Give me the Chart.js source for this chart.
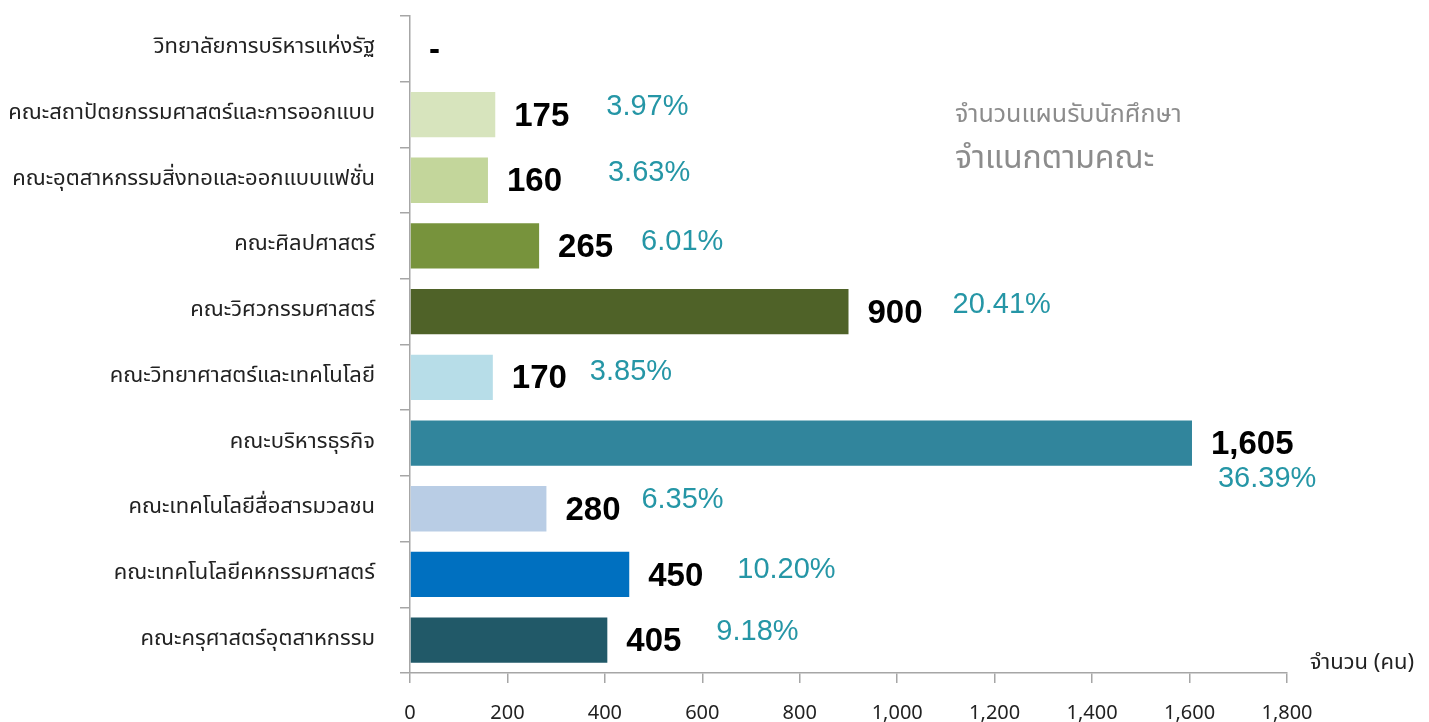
<!DOCTYPE html>
<html>
<head>
<meta charset="utf-8">
<script src="https://cdn.jsdelivr.net/npm/chart.js@4.4.1/dist/chart.umd.min.js"></script>
<style>
  html, body { margin: 0; padding: 0; background: #ffffff; }
  #wrap { width: 1429px; height: 722px; position: relative; }
</style>
</head>
<body>
<div id="wrap"><canvas id="c" width="1429" height="722"></canvas></div>
<script>
// ---- data ----
const categories = [
  'วิทยาลัยการบริหารแห่งรัฐ',
  'คณะสถาปัตยกรรมศาสตร์และการออกแบบ',
  'คณะอุตสาหกรรมสิ่งทอและออกแบบแฟชั่น',
  'คณะศิลปศาสตร์',
  'คณะวิศวกรรมศาสตร์',
  'คณะวิทยาศาสตร์และเทคโนโลยี',
  'คณะบริหารธุรกิจ',
  'คณะเทคโนโลยีสื่อสารมวลชน',
  'คณะเทคโนโลยีคหกรรมศาสตร์',
  'คณะครุศาสตร์อุตสาหกรรม'
];
const values = [0, 175, 160, 265, 900, 170, 1605, 280, 450, 405];
const percentLabels = ['', '3.97%', '3.63%', '6.01%', '20.41%', '3.85%', '36.39%', '6.35%', '10.20%', '9.18%'];
const xTicks = [0, 200, 400, 600, 800, 1000, 1200, 1400, 1600, 1800];
const titleLine1 = 'จำนวนแผนรับนักศึกษา';
const titleLine2 = 'จำแนกตามคณะ';
const xAxisTitle = 'จำนวน (คน)';

// ---- styles ----
const barColors = ['#ffffff', '#d7e4bd', '#c3d69b', '#77933c', '#4f6228', '#b7dde8', '#31859c', '#b9cde5', '#0070c0', '#215968'];
const pctDx = [0, 111, 120, 102, 104, 97, 26, 95, 108, 109];
const pctDy = [0, -8, -7, -4, -7, -5, 36, -9, -4, -8];
const thaiFont = "Tahoma, 'Noto Sans Thai', 'Leelawadee UI', 'Noto Sans', sans-serif";
const axisGray = '#a6a6a6';

const labelPlugin = {
  id: 'labels',
  afterDatasetsDraw(chart) {
    const ctx = chart.ctx;
    const meta = chart.getDatasetMeta(0);
    ctx.save();
    meta.data.forEach((bar, i) => {
      const v = values[i];
      ctx.textBaseline = 'middle';
      ctx.textAlign = 'left';
      ctx.fillStyle = '#000000';
      ctx.font = "bold 33px 'Liberation Sans', Arial, sans-serif";
      const txt = v === 0 ? '-' : v.toLocaleString('en-US');
      ctx.fillText(txt, bar.x + 19, bar.y + 2);
      if (percentLabels[i]) {
        ctx.fillStyle = '#2596a6';
        ctx.font = "29px 'Liberation Sans', Arial, sans-serif";
        ctx.fillText(percentLabels[i], bar.x + pctDx[i], bar.y + pctDy[i]);
      }
    });
    // titles
    ctx.fillStyle = '#8c8c8c';
    ctx.textAlign = 'left';
    ctx.textBaseline = 'middle';
    ctx.font = "25px " + thaiFont;
    ctx.fillText(titleLine1, 955, 117);
    ctx.font = "32px " + thaiFont;
    ctx.fillText(titleLine2, 955, 162);
    ctx.fillStyle = '#222222';
    ctx.font = "22px " + thaiFont;
    ctx.textAlign = 'right';
    ctx.fillText(xAxisTitle, 1414, 665);
    ctx.restore();
  }
};

new Chart(document.getElementById('c'), {
  type: 'bar',
  data: {
    labels: categories,
    datasets: [{
      data: values,
      backgroundColor: barColors,
      borderWidth: 0,
      barPercentage: 0.69,
      categoryPercentage: 1.0
    }]
  },
  options: {
    indexAxis: 'y',
    responsive: false,
    animation: false,
    layout: { padding: { top: 16, right: 142, left: 0, bottom: 0 } },
    plugins: { legend: { display: false }, tooltip: { enabled: false }, title: { display: false } },
    scales: {
      x: {
        min: 0, max: 1800,
        afterBuildTicks(scale) { scale.ticks = xTicks.map(v => ({ value: v })); },
        afterFit(scale) { scale.height = 49; scale.paddingLeft = 0; scale.paddingRight = 0; },
        border: { display: true, color: axisGray, width: 1.5 },
        grid: { display: true, drawOnChartArea: false, drawTicks: true, tickLength: 10, color: axisGray, lineWidth: 1.5 },
        ticks: {
          color: '#222222',
          font: { family: thaiFont, size: 20 },
          padding: 20,
          maxRotation: 0,
          callback: (v) => Number(v).toLocaleString('en-US')
        }
      },
      y: {
        afterFit(scale) { scale.width = 410; scale.paddingTop = 0; scale.paddingBottom = 0; },
        border: { display: true, color: axisGray, width: 1.5 },
        grid: { display: true, drawOnChartArea: false, drawTicks: true, tickLength: 10, color: axisGray, lineWidth: 1.5, offset: true },
        ticks: {
          color: '#222222',
          font: { family: thaiFont, size: 22 },
          padding: 25
        }
      }
    }
  },
  plugins: [labelPlugin]
});
</script>
</body>
</html>
